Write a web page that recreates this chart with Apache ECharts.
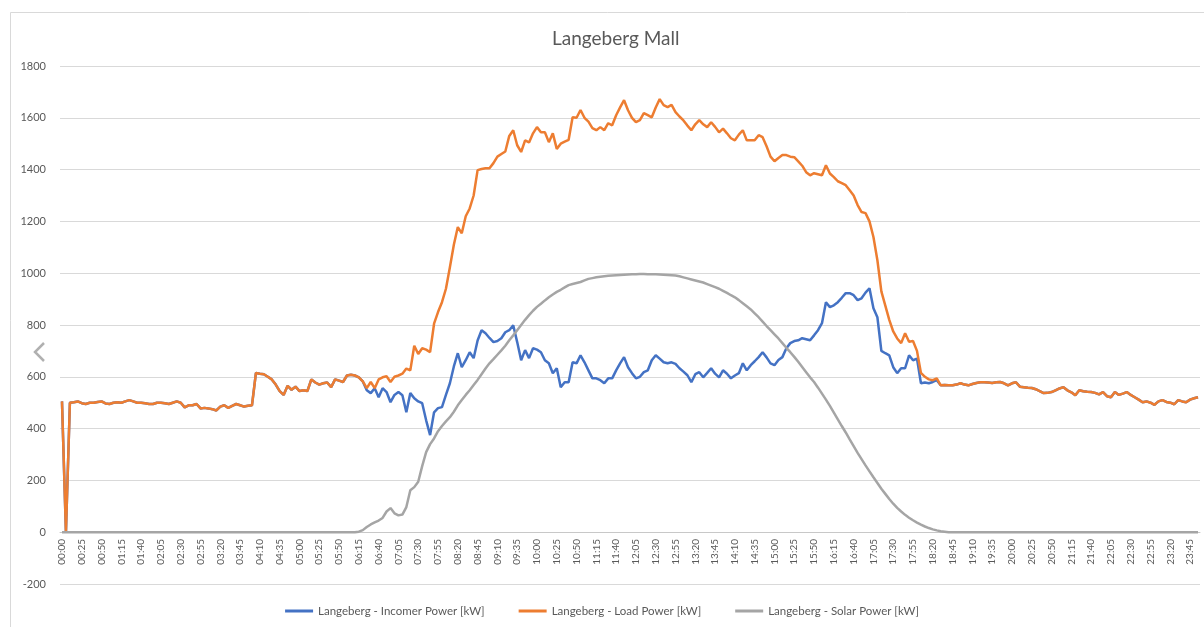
<!DOCTYPE html>
<html>
<head>
<meta charset="utf-8">
<title>Langeberg Mall</title>
<script src="https://cdn.jsdelivr.net/npm/echarts@6/dist/echarts.min.js"></script>
<style>
  html, body { margin: 0; padding: 0; background: #fff; }
  #chart { width: 1204px; height: 627px; }
</style>
</head>
<body>
<div id="chart"></div>
<script>
// 5-minute readings, one row per hour
const loadPower = [
  505, 0, 500, 502, 505, 498, 495, 500, 500, 503, 505, 497,
  495, 500, 502, 500, 505, 510, 505, 500, 500, 498, 495, 495,
  500, 500, 498, 495, 500, 505, 500, 482, 490, 490, 495, 478,
  480, 478, 475, 470, 485, 490, 480, 488, 495, 490, 485, 488,
  490, 615, 612, 610, 600, 590, 570, 545, 530, 565, 550, 562,
  545, 548, 545, 590, 578, 570, 575, 578, 560, 590, 585, 580,
  605, 608, 605, 598, 582, 556, 580, 556, 590, 598, 602, 580,
  600, 605, 612, 632, 625, 720, 688, 710, 705, 695, 805, 850,
  888, 940, 1023, 1110, 1178, 1154, 1220, 1250, 1300, 1398, 1402, 1405,
  1405, 1425, 1450, 1460, 1470, 1530, 1552, 1494, 1468, 1513, 1505, 1540,
  1564, 1544, 1544, 1506, 1540, 1480, 1500, 1508, 1515, 1602, 1600, 1630,
  1600, 1585, 1560, 1552, 1564, 1552, 1579, 1571, 1610, 1640, 1668, 1629,
  1600, 1583, 1591, 1618, 1610, 1602, 1640, 1672, 1649, 1641, 1650, 1622,
  1605, 1590, 1570, 1552, 1575, 1591, 1575, 1564, 1583, 1565, 1544, 1558,
  1540, 1521, 1513, 1535, 1552, 1513, 1513, 1513, 1533, 1525, 1490, 1450,
  1432, 1445, 1456, 1456, 1450, 1448, 1432, 1415, 1390, 1378, 1386, 1382,
  1378, 1417, 1385, 1371, 1355, 1348, 1340, 1320, 1300, 1263, 1236, 1232,
  1200, 1140, 1050, 930, 875, 820, 775, 748, 730, 768, 735, 738,
  700, 615, 600, 590, 587, 594, 567, 568, 567, 567, 570, 575,
  570, 567, 572, 576, 579, 579, 578, 576, 579, 580, 575, 567,
  575, 579, 562, 560, 558, 557, 552, 545, 537, 538, 541, 548,
  555, 560, 548, 540, 529, 548, 544, 542, 541, 538, 532, 541,
  525, 521, 541, 530, 535, 541, 530, 521, 512, 502, 505, 500,
  492, 505, 510, 503, 500, 494, 510, 505, 502, 512, 517, 521
];

const incomerPower = [
  505, 0, 500, 502, 505, 498, 495, 500, 500, 503, 505, 497,
  495, 500, 502, 500, 505, 510, 505, 500, 500, 498, 495, 495,
  500, 500, 498, 495, 500, 505, 500, 482, 490, 490, 495, 478,
  480, 478, 475, 470, 485, 490, 480, 488, 495, 490, 485, 488,
  490, 615, 612, 610, 600, 590, 570, 545, 530, 565, 550, 562,
  545, 548, 545, 590, 578, 570, 575, 578, 560, 590, 585, 580,
  605, 608, 605, 598, 582, 548, 537, 556, 521, 556, 541, 502,
  530, 541, 529, 463, 537, 517, 505, 498, 432, 375, 463, 479,
  483, 530, 575, 640, 691, 637, 664, 695, 672, 740, 780, 768,
  750, 734, 738, 749, 772, 780, 799, 734, 664, 703, 672, 710,
  705, 695, 664, 652, 614, 633, 560, 579, 579, 656, 652, 683,
  656, 625, 594, 594, 587, 575, 594, 594, 625, 652, 676, 637,
  614, 594, 600, 618, 625, 664, 683, 670, 656, 652, 656, 650,
  633, 620, 606, 579, 610, 618, 598, 615, 633, 612, 598, 625,
  612, 594, 605, 614, 652, 625, 645, 660, 676, 695, 675, 652,
  645, 665, 676, 710, 730, 738, 741, 749, 745, 741, 760, 780,
  807, 888, 869, 876, 888, 905, 923, 923, 915, 896, 903, 925,
  942, 865, 830, 700, 691, 683, 637, 614, 633, 633, 683, 664,
  670, 575, 578, 575, 580, 587, 567, 568, 567, 567, 570, 575,
  570, 567, 572, 576, 579, 579, 578, 576, 579, 580, 575, 567,
  575, 579, 562, 560, 558, 557, 552, 545, 537, 538, 541, 548,
  555, 560, 548, 540, 529, 548, 544, 542, 541, 538, 532, 541,
  525, 521, 541, 530, 535, 541, 530, 521, 512, 502, 505, 500,
  492, 505, 510, 503, 500, 494, 510, 505, 502, 512, 517, 521
];

const solarPower = [
  0, 0, 0, 0, 0, 0, 0, 0, 0, 0, 0, 0,
  0, 0, 0, 0, 0, 0, 0, 0, 0, 0, 0, 0,
  0, 0, 0, 0, 0, 0, 0, 0, 0, 0, 0, 0,
  0, 0, 0, 0, 0, 0, 0, 0, 0, 0, 0, 0,
  0, 0, 0, 0, 0, 0, 0, 0, 0, 0, 0, 0,
  0, 0, 0, 0, 0, 0, 0, 0, 0, 0, 0, 0,
  0, 0, 0, 2, 8, 20, 30, 38, 45, 55, 80, 93,
  73, 65, 68, 97, 162, 174, 195, 255, 309, 340, 362, 390,
  410, 428, 444, 465, 490, 510, 530, 548, 568, 588, 610, 632,
  652, 668, 685, 702, 720, 741, 760, 780, 800, 820, 838, 855,
  870, 882, 895, 907, 918, 928, 936, 945, 954, 958, 962, 966,
  972, 978, 981, 984, 986, 988, 990, 991, 992, 993, 994, 995,
  996, 996, 997, 997, 996, 996, 996, 995, 994, 993, 992, 991,
  988, 984, 980, 976, 972, 968, 964, 958, 952, 946, 940, 932,
  924, 915, 907, 896, 884, 872, 860, 845, 830, 813, 796, 780,
  764, 748, 730, 712, 695, 677, 658, 638, 618, 598, 580, 558,
  535, 512, 488, 462, 436, 410, 385, 358, 332, 306, 282, 258,
  235, 212, 190, 168, 148, 128, 110, 94, 80, 67, 56, 46,
  37, 29, 22, 16, 11, 7, 4, 2, 0, 0, 0, 0,
  0, 0, 0, 0, 0, 0, 0, 0, 0, 0, 0, 0,
  0, 0, 0, 0, 0, 0, 0, 0, 0, 0, 0, 0,
  0, 0, 0, 0, 0, 0, 0, 0, 0, 0, 0, 0,
  0, 0, 0, 0, 0, 0, 0, 0, 0, 0, 0, 0,
  0, 0, 0, 0, 0, 0, 0, 0, 0, 0, 0, 0
];

const seriesNames = [
  'Langeberg - Incomer Power [kW]',
  'Langeberg - Load Power [kW]',
  'Langeberg - Solar Power [kW]'
];

// time of day every 5 minutes, 00:00 .. 23:55
const times = [];
for (let m = 0; m < 24 * 60; m += 5) {
  const hh = String(Math.floor(m / 60)).padStart(2, '0');
  const mm = String(m % 60).padStart(2, '0');
  times.push(hh + ':' + mm);
}

const textColor = '#595959';
const font = 'Lato, "Open Sans", sans-serif';

const chart = echarts.init(document.getElementById('chart'));

chart.setOption({
  animation: false,
  backgroundColor: '#fff',
  color: ['#4472C4', '#ED7D31', '#A5A5A5'],
  title: {
    text: 'Langeberg Mall',
    left: 547,
    top: 24,
    textStyle: { color: textColor, fontSize: 19, fontWeight: 'normal', fontFamily: font }
  },
  legend: {
    bottom: 5,
    left: 'center',
    icon: 'rect',
    itemWidth: 28,
    itemHeight: 3,
    itemGap: 34,
    textStyle: { color: textColor, fontSize: 11.5, fontFamily: font },
    data: seriesNames
  },
  grid: { left: 60, right: 4, top: 66, bottom: 43 },
  xAxis: {
    type: 'category',
    data: times,
    boundaryGap: true,
    position: 'bottom',
    // sit the axis on the zero line, 200 units above the grid bottom
    offset: -52,
    axisLine: { onZero: false, lineStyle: { color: '#c8c8c8', width: 1 } },
    axisTick: { show: false },
    axisLabel: {
      interval: 4,
      rotate: 90,
      margin: 7,
      color: textColor,
      fontSize: 10,
      fontFamily: font
    },
    splitLine: { show: false }
  },
  yAxis: {
    type: 'value',
    min: -200,
    max: 1800,
    interval: 200,
    axisLine: { show: false },
    axisTick: { show: false },
    axisLabel: {
      color: textColor,
      fontSize: 11,
      fontFamily: font,
      margin: 14,
      formatter: v => String(v)
    },
    splitLine: { lineStyle: { color: '#d9d9d9', width: 1 } }
  },
  series: [
    {
      name: seriesNames[0],
      type: 'line',
      data: incomerPower,
      symbol: 'none',
      lineStyle: { width: 2.5 }
    },
    {
      name: seriesNames[1],
      type: 'line',
      data: loadPower,
      symbol: 'none',
      lineStyle: { width: 2.5 }
    },
    {
      name: seriesNames[2],
      type: 'line',
      data: solarPower,
      symbol: 'none',
      lineStyle: { width: 2.5 }
    }
  ],
  graphic: [
    {
      type: 'rect',
      shape: { x: 10.5, y: 12.5, width: 1200, height: 620 },
      style: { fill: 'none', stroke: '#d9d9d9', lineWidth: 1 },
      silent: true
    },
    {
      type: 'polyline',
      shape: { points: [[44, 343], [35, 352], [44, 361]] },
      style: { fill: 'none', stroke: '#b0b0b0', lineWidth: 2.5 },
      silent: true
    }
  ]
});
</script>
</body>
</html>
